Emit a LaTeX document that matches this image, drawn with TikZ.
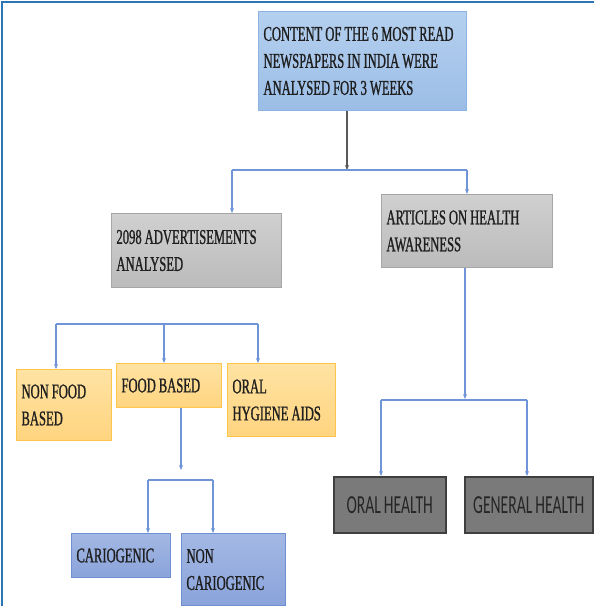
\documentclass[tikz,border=0pt]{standalone}
\usepackage{fontspec}
\setmainfont{Liberation Serif}[FakeStretch=0.6,FakeBold=1]
\newfontfamily\narrowsans{Carlito}[FakeStretch=0.6]
\usetikzlibrary{arrows.meta}
\definecolor{framecol}{HTML}{2E75B6}
\definecolor{connblue}{HTML}{6F95D8}
\definecolor{darkline}{HTML}{595959}

\begin{document}
\begin{tikzpicture}[x=1pt,y=-1pt,
  every node/.style={anchor=north west,inner xsep=5pt,inner ysep=0pt,align=flush left,
    font=\fontsize{21}{27}\selectfont,text={black!88},
    execute at begin node={\spaceskip=3pt plus 1pt\relax}},
  bluebox/.style={draw={rgb,255:red,141;green,179;blue,226},line width=1pt,
    top color={rgb,255:red,181;green,208;blue,239},bottom color={rgb,255:red,155;green,189;blue,230}},
  graybox/.style={draw={rgb,255:red,166;green,166;blue,166},line width=1pt,
    top color={rgb,255:red,208;green,208;blue,208},bottom color={rgb,255:red,187;green,187;blue,187}},
  orangebox/.style={draw={rgb,255:red,255;green,196;blue,77},line width=1pt,
    top color={rgb,255:red,255;green,227;blue,163},bottom color={rgb,255:red,255;green,212;blue,127}},
  leafbox/.style={draw={rgb,255:red,110;green,143;blue,209},line width=1pt,
    top color={rgb,255:red,163;green,184;blue,228},bottom color={rgb,255:red,138;green,163;blue,218}},
  darkbox/.style={draw={rgb,255:red,63;green,63;blue,63},line width=1.5pt,
    fill={rgb,255:red,122;green,122;blue,122},align=flush center,
    font=\narrowsans\fontsize{26}{28}\selectfont,text={black!85}},
  conn/.style={draw=connblue,line width=1.2pt},
  arr/.style={conn,-{Stealth[length=5pt,width=4pt]}},
  darkarr/.style={draw=darkline,line width=1.2pt,-{Stealth[length=5pt,width=4pt]}}]
  \useasboundingbox (0,0) rectangle (594,606);
  \draw[framecol,line width=2.5pt] (2,606) -- (2,2) -- (594,2);

  \node[bluebox,text width=198pt,minimum height=99pt] (top) at (258,11)
    {CONTENT OF THE 6 MOST READ\\NEWSPAPERS IN INDIA WERE\\ANALYSED FOR 3 WEEKS};
  \node[graybox,text width=160pt,minimum height=74pt] (adv) at (111,213)
    {2098 ADVERTISEMENTS\\ANALYSED};
  \node[graybox,text width=161pt,minimum height=73pt] (art) at (381,194)
    {ARTICLES ON HEALTH\\AWARENESS};
  \node[orangebox,text width=85pt,minimum height=71pt] (nonfood) at (16,369)
    {NON FOOD\\BASED};
  \node[orangebox,text width=95pt,minimum height=44pt] (food) at (116,363)
    {FOOD BASED};
  \node[orangebox,text width=98pt,minimum height=73pt] (hyg) at (227,363)
    {ORAL\\HYGIENE AIDS};
  \node[leafbox,text width=89pt,minimum height=44pt] (cario) at (71,533)
    {CARIOGENIC};
  \node[leafbox,text width=94pt,minimum height=72pt] (noncario) at (181,533)
    {NON\\CARIOGENIC};
  \node[darkbox,text width=102pt,minimum height=56pt] (oralh) at (333,476)
    {ORAL HEALTH};
  \node[darkbox,text width=118pt,minimum height=56pt] (genh) at (464,476)
    {GENERAL HEALTH};

  % first split
  \coordinate (j0) at (347,170);
  \coordinate (jl) at (232,170);
  \coordinate (jr) at (467,170);
  \draw[darkarr] (top.south -| j0) -- (j0);
  \draw[conn] (jl) -- (jr);
  \draw[arr] (jl) -- (jl |- adv.north);
  \draw[arr] (jr) -- (jr |- art.north);

  % advertisements
  \coordinate (ka) at (56,324);
  \coordinate (kb) at (164,324);
  \coordinate (kc) at (258,324);
  \draw[conn] (ka) -- (kc);
  \draw[arr] (ka) -- (ka |- nonfood.north);
  \draw[arr] (kb) -- (kb |- food.north);
  \draw[arr] (kc) -- (kc |- hyg.north);

  % food based
  \coordinate (fend) at (181,470);
  \coordinate (ma) at (148,480);
  \coordinate (mb) at (213,480);
  \draw[arr] (food.south -| fend) -- (fend);
  \draw[conn] (ma) -- (mb);
  \draw[arr] (ma) -- (ma |- cario.north);
  \draw[arr] (mb) -- (mb |- noncario.north);

  % health articles
  \coordinate (hend) at (465,399);
  \coordinate (ha) at (381,400);
  \coordinate (hb) at (527,400);
  \draw[arr] (art.south -| hend) -- (hend);
  \draw[conn] (ha) -- (hb);
  \draw[arr] (ha) -- (ha |- oralh.north);
  \draw[arr] (hb) -- (hb |- genh.north);
\end{tikzpicture}
\end{document}
